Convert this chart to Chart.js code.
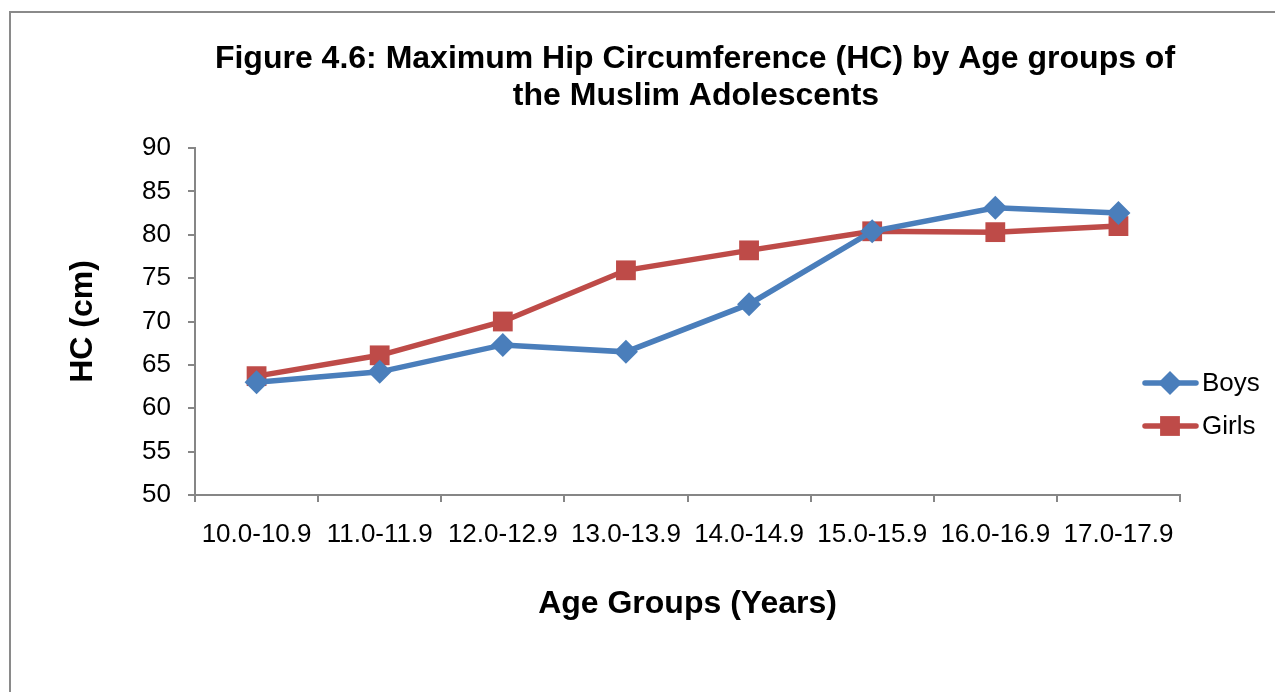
<!DOCTYPE html>
<html>
<head>
<meta charset="utf-8">
<script src="https://cdn.jsdelivr.net/npm/chart.js@4"></script>
<style>
  body{margin:0;background:#fff;overflow:hidden;}
  #frame{position:absolute;left:9px;top:11px;width:1400px;height:800px;border:2px solid #8a8a8a;box-sizing:border-box;}
  #hc{position:absolute;left:0;top:0;}
</style>
</head>
<body>
<div id="frame"></div>
<canvas id="hc" width="1275" height="692"></canvas>
<script>
const AGE_GROUPS = ["10.0-10.9","11.0-11.9","12.0-12.9","13.0-13.9","14.0-14.9","15.0-15.9","16.0-16.9","17.0-17.9"];
const BOYS_HC  = [63.0, 64.2, 67.3, 66.5, 72.0, 80.4, 83.1, 82.5];
const GIRLS_HC = [63.7, 66.1, 70.0, 75.9, 78.2, 80.4, 80.3, 81.0];
const Y_TICKS = {min:50, max:90, step:5};

const TITLE_LINES = ["Figure 4.6: Maximum Hip Circumference (HC) by Age groups of", "the Muslim Adolescents"];
const BLUE = "#4A7EBB", RED = "#BE4B48", AXIS = "#868686";
const FONT = "'Liberation Sans', Arial, sans-serif";

// titre + légende dessinés à la main (positions façon Excel)
const decor = {
  id: "decor",
  afterDraw(chart){
    const ctx = chart.ctx;
    ctx.save();
    ctx.fillStyle = "#000";
    ctx.textAlign = "center";
    ctx.textBaseline = "middle";
    ctx.font = "bold 32px " + FONT;
    ctx.fillText(TITLE_LINES[0], 695, 59);
    ctx.fillText(TITLE_LINES[1], 696, 96);

    const items = chart.data.datasets.map((ds,i)=>({ds, y: 383 + i*43}));
    items.forEach(({ds,y})=>{
      ctx.strokeStyle = ds.borderColor;
      ctx.lineWidth = ds.borderWidth;
      ctx.lineCap = "round";
      ctx.beginPath(); ctx.moveTo(1145, y); ctx.lineTo(1196, y); ctx.stroke();
      ctx.fillStyle = ds.pointBackgroundColor;
      Chart.helpers.drawPoint(ctx, {pointStyle: ds.pointStyle, radius: ds.pointRadius, borderWidth: 0}, 1170, y);
      ctx.fillStyle = "#000";
      ctx.textAlign = "left";
      ctx.font = "26px " + FONT;
      ctx.fillText(ds.label, 1202, y + 1);
    });
    ctx.restore();
  }
};

new Chart(document.getElementById("hc"), {
  type: "line",
  data: {
    labels: AGE_GROUPS,
    datasets: [
      {label:"Boys", data:BOYS_HC, borderColor:BLUE, backgroundColor:BLUE, pointBackgroundColor:BLUE,
       pointBorderColor:BLUE, borderWidth:5.5, pointStyle:"rectRot", pointRadius:12, pointBorderWidth:0, tension:0},
      {label:"Girls", data:GIRLS_HC, borderColor:RED, backgroundColor:RED, pointBackgroundColor:RED,
       pointBorderColor:RED, borderWidth:5.5, pointStyle:"rect", pointRadius:14, pointBorderWidth:0, tension:0},
    ],
  },
  options: {
    responsive: false,
    animation: false,
    devicePixelRatio: 1,
    layout: { padding: {top:148, right:95, left:0, bottom:0} },
    plugins: { legend:{display:false}, title:{display:false}, tooltip:{enabled:false} },
    scales: {
      x: {
        offset: true,
        grid: { offset:true, drawOnChartArea:false, drawTicks:true, tickLength:7, color:AXIS, lineWidth:2 },
        border: { display:true, color:AXIS, width:2 },
        ticks: { color:"#000", font:{family:FONT, size:26}, padding:17, maxRotation:0, autoSkip:false },
        title: { display:true, text:"Age Groups (Years)", color:"#000", font:{family:FONT, size:32, weight:"bold"}, padding:{top:0, bottom:69} },
        afterFit(scale){ scale.height = 197; },
      },
      y: {
        min: Y_TICKS.min, max: Y_TICKS.max,
        grid: { drawOnChartArea:false, drawTicks:true, tickLength:7, color:AXIS, lineWidth:2 },
        border: { display:true, color:AXIS, width:2 },
        ticks: { stepSize:Y_TICKS.step, color:"#000", font:{family:FONT, size:26}, padding:17 },
        title: { display:true, text:"HC (cm)", color:"#000", font:{family:FONT, size:32, weight:"bold"}, padding:{top:64, bottom:0} },
        afterFit(scale){ scale.width = 195; },
      },
    },
  },
  plugins: [decor],
});
</script>
</body>
</html>
